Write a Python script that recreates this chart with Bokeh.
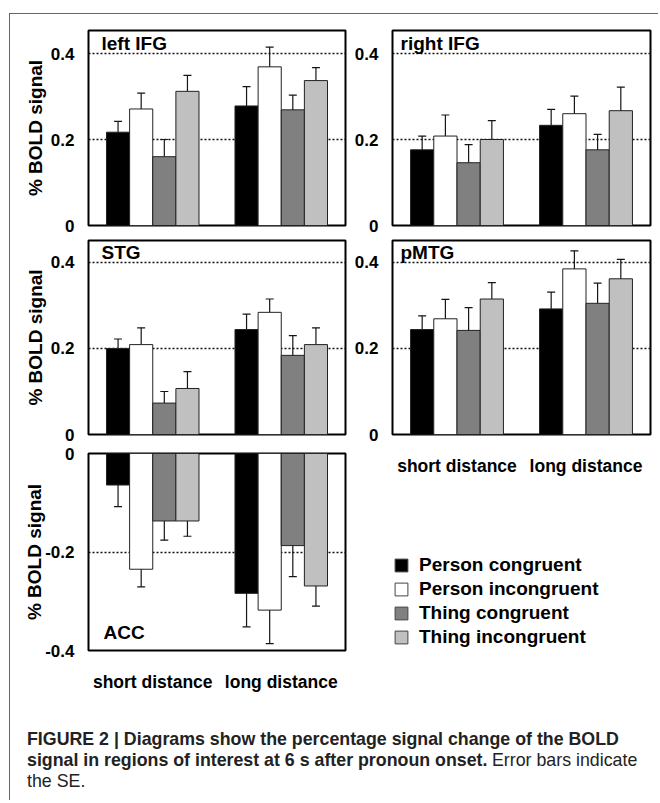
from bokeh.plotting import figure
from bokeh.layouts import column, row
from bokeh.models import (ColumnDataSource, FactorRange, Range1d, FixedTicker,
                          CustomJSTickFormatter, Whisker, TeeHead, Label, Legend, LegendItem)
from bokeh.transform import dodge
from bokeh.embed import file_html
from bokeh.resources import INLINE

# ---------------- data ----------------
distances = ["short distance", "long distance"]
conditions = ["Person congruent", "Person incongruent", "Thing congruent", "Thing incongruent"]
colors = ["#000000", "#ffffff", "#808080", "#c0c0c0"]

# rows = conditions, columns = [short, long]
left_ifg_mean = [[0.217, 0.278], [0.271, 0.369], [0.160, 0.269], [0.312, 0.337]]
left_ifg_se = [[0.025, 0.045], [0.037, 0.046], [0.040, 0.034], [0.037, 0.030]]

right_ifg_mean = [[0.176, 0.233], [0.208, 0.260], [0.146, 0.176], [0.200, 0.267]]
right_ifg_se = [[0.032, 0.037], [0.049, 0.041], [0.042, 0.036], [0.044, 0.055]]

stg_mean = [[0.200, 0.244], [0.209, 0.284], [0.073, 0.184], [0.107, 0.209]]
stg_se = [[0.022, 0.036], [0.039, 0.031], [0.027, 0.046], [0.039, 0.039]]

pmtg_mean = [[0.244, 0.292], [0.269, 0.385], [0.242, 0.305], [0.315, 0.362]]
pmtg_se = [[0.032, 0.039], [0.045, 0.042], [0.053, 0.047], [0.038, 0.045]]

acc_mean = [[-0.064, -0.284], [-0.235, -0.318], [-0.137, -0.187], [-0.137, -0.269]]
acc_se = [[0.044, 0.068], [0.036, 0.068], [0.039, 0.063], [0.031, 0.041]]

pos_ticks = [0, 0.2, 0.4]
neg_ticks = [-0.4, -0.2, 0]

caption_bold_1 = "FIGURE 2 | Diagrams show the percentage signal change of the BOLD"
caption_bold_2 = "signal in regions of interest at 6 s after pronoun onset."
caption_norm_2 = "Error bars indicate"
caption_norm_3 = "the SE."

# ---------------- style ----------------
FONT = "Liberation Sans"
offsets = [-0.27, -0.09, 0.09, 0.27]
BAR_W = 0.18


def make_sources(means, ses):
    out = []
    for k in range(len(conditions)):
        vals = means[k]
        errs = ses[k]
        out.append(ColumnDataSource(dict(
            dist=distances,
            value=vals,
            upper=[v + e for v, e in zip(vals, errs)],
            lower=[v - e for v, e in zip(vals, errs)],
        )))
    return out


def panel(title, means, ses, y0, y1, ticks, L, R, T, B, fw, fh,
          tdx, tdy, title_top=True, show_x=False, ylabel=None, ylabel_standoff=8):
    p = figure(width=L + fw + R, height=T + fh + B,
               x_range=FactorRange(factors=distances), y_range=Range1d(y0, y1),
               output_backend="svg", toolbar_location=None,
               min_border_left=L, min_border_right=R,
               min_border_top=T, min_border_bottom=B)
    p.title.visible = False
    p.background_fill_color = "white"
    p.border_fill_color = "white"
    p.outline_line_color = "black"
    p.outline_line_width = 2
    p.outline_line_alpha = 1

    p.xgrid.visible = False
    p.ygrid.ticker = FixedTicker(ticks=ticks)
    p.ygrid.grid_line_color = "#111111"
    p.ygrid.grid_line_dash = "2 2"
    p.ygrid.grid_line_width = 1.5

    ya = p.yaxis[0]
    ya.ticker = FixedTicker(ticks=ticks)
    ya.formatter = CustomJSTickFormatter(
        code="return Math.abs(tick) < 1e-9 ? '0' : tick.toFixed(1);")
    ya.axis_line_color = None
    ya.major_tick_line_color = None
    ya.minor_tick_line_color = None
    ya.major_tick_out = 0
    ya.major_tick_in = 0
    ya.major_label_standoff = 14
    ya.major_label_text_font = FONT
    ya.major_label_text_font_size = "17px"
    ya.major_label_text_font_style = "bold"
    ya.major_label_text_color = "black"
    if ylabel:
        ya.axis_label = ylabel
        ya.axis_label_text_font = FONT
        ya.axis_label_text_font_size = "19px"
        ya.axis_label_text_font_style = "bold"
        ya.axis_label_text_color = "black"
        ya.axis_label_standoff = ylabel_standoff

    xa = p.xaxis[0]
    if show_x:
        xa.axis_line_color = None
        xa.major_tick_line_color = None
        xa.major_tick_out = 0
        xa.major_tick_in = 0
        xa.major_label_standoff = 21
        xa.major_label_text_font = FONT
        xa.major_label_text_font_size = "17.5px"
        xa.major_label_text_font_style = "bold"
        xa.major_label_text_color = "black"
    else:
        xa.visible = False

    for k, src in enumerate(make_sources(means, ses)):
        p.vbar(x=dodge("dist", offsets[k], range=p.x_range), top="value", width=BAR_W,
               source=src, fill_color=colors[k], line_color="#222222", line_width=1)
        w = Whisker(source=src, base=dodge("dist", offsets[k], range=p.x_range),
                    upper="upper", lower="lower", dimension="height",
                    line_color="#151515", line_width=1.2,
                    upper_head=TeeHead(size=8, line_color="#151515", line_width=1.2),
                    lower_head=TeeHead(size=8, line_color="#151515", line_width=1.2))
        p.add_layout(w)

    if title_top:
        lab = Label(x=0, y=y1, x_offset=tdx, y_offset=-tdy, text=title,
                    text_baseline="middle", text_align="left",
                    text_font=FONT, text_font_size="19px", text_font_style="bold",
                    text_color="black")
    else:
        lab = Label(x=0, y=y0, x_offset=tdx, y_offset=tdy, text=title,
                    text_baseline="middle", text_align="left",
                    text_font=FONT, text_font_size="19px", text_font_style="bold",
                    text_color="black")
    p.add_layout(lab)
    return p


LW, LR = 78, 5
RW, RR = 42, 8
FW_L, FW_R = 257, 258

p1 = panel("left IFG", left_ifg_mean, left_ifg_se, 0, 0.4535, pos_ticks,
           LW, LR, 16, 9, FW_L, 195, 13, 13, ylabel="% BOLD signal", ylabel_standoff=2)
p2 = panel("right IFG", right_ifg_mean, right_ifg_se, 0, 0.4535, pos_ticks,
           RW, RR, 16, 9, FW_R, 195, 8, 13)
p3 = panel("STG", stg_mean, stg_se, 0, 0.451, pos_ticks,
           LW, LR, 6, 10, FW_L, 194, 13, 12, ylabel="% BOLD signal", ylabel_standoff=2)
p4 = panel("pMTG", pmtg_mean, pmtg_se, 0, 0.451, pos_ticks,
           RW, RR, 6, 44, FW_R, 194, 8, 12, show_x=True)
p5 = panel("ACC", acc_mean, acc_se, -0.4, 0, neg_ticks,
           LW, LR, 9, 44, FW_L, 197, 15, 18, title_top=False, show_x=True,
           ylabel="% BOLD signal", ylabel_standoff=-3)

# legend figure: hidden proxy renderers (same pMTG data) only supply the swatches
pl = figure(width=RW + FW_R + RR, height=216, x_range=FactorRange(factors=distances),
            y_range=Range1d(0, 0.451), x_axis_type=None, y_axis_type=None,
            min_border=0, output_backend="svg", toolbar_location=None)
pl.title.visible = False
pl.outline_line_color = None
pl.xgrid.visible = False
pl.ygrid.visible = False
items = []
for k, src in enumerate(make_sources(pmtg_mean, pmtg_se)):
    r = pl.vbar(x=dodge("dist", offsets[k], range=pl.x_range), top="value", width=BAR_W,
                source=src, fill_color=colors[k], line_color="#444444", line_width=1)
    r.visible = False
    items.append(LegendItem(label=conditions[k], renderers=[r]))
legend = Legend(items=items, location=(1, 46), orientation="vertical",
                click_policy="none",
                glyph_width=16, glyph_height=16, label_height=16, spacing=2,
                label_standoff=10, padding=0, margin=0,
                border_line_color=None, background_fill_alpha=0,
                label_text_font=FONT, label_text_font_size="19px",
                label_text_font_style="bold", label_text_color="black")
pl.add_layout(legend)

# caption figure
CW, CH = LW + FW_L + LR + RW + FW_R + RR, 106
cap = figure(width=CW, height=CH, x_range=Range1d(0, CW), y_range=Range1d(0, CH),
             x_axis_type=None, y_axis_type=None, min_border=0,
             output_backend="svg", toolbar_location=None)
cap.title.visible = False
cap.outline_line_color = None
cap.xgrid.visible = False
cap.ygrid.visible = False
for txt, x, y, style in [(caption_bold_1, 16.5, 61.5, "bold"),
                         (caption_bold_2, 16.5, 40.5, "bold"),
                         (caption_norm_2, 481.5, 40.5, "normal"),
                         (caption_norm_3, 16.5, 19.5, "normal")]:
    cap.add_layout(Label(x=x, y=y, text=txt, text_baseline="middle", text_align="left",
                         text_font=FONT, text_font_size="17.8px", text_font_style=style,
                         text_color="#222222"))

left_col = column(p1, p3, p5, spacing=0)
right_col = column(p2, p4, pl, spacing=0)
layout = column(row(left_col, right_col, spacing=0), cap, spacing=0,
                margin=(13, 0, 0, 9),
                styles={"border-top": "1.5px solid #666666",
                        "border-left": "1.5px solid #666666"})

open("out.html", "w").write(file_html(layout, INLINE))
